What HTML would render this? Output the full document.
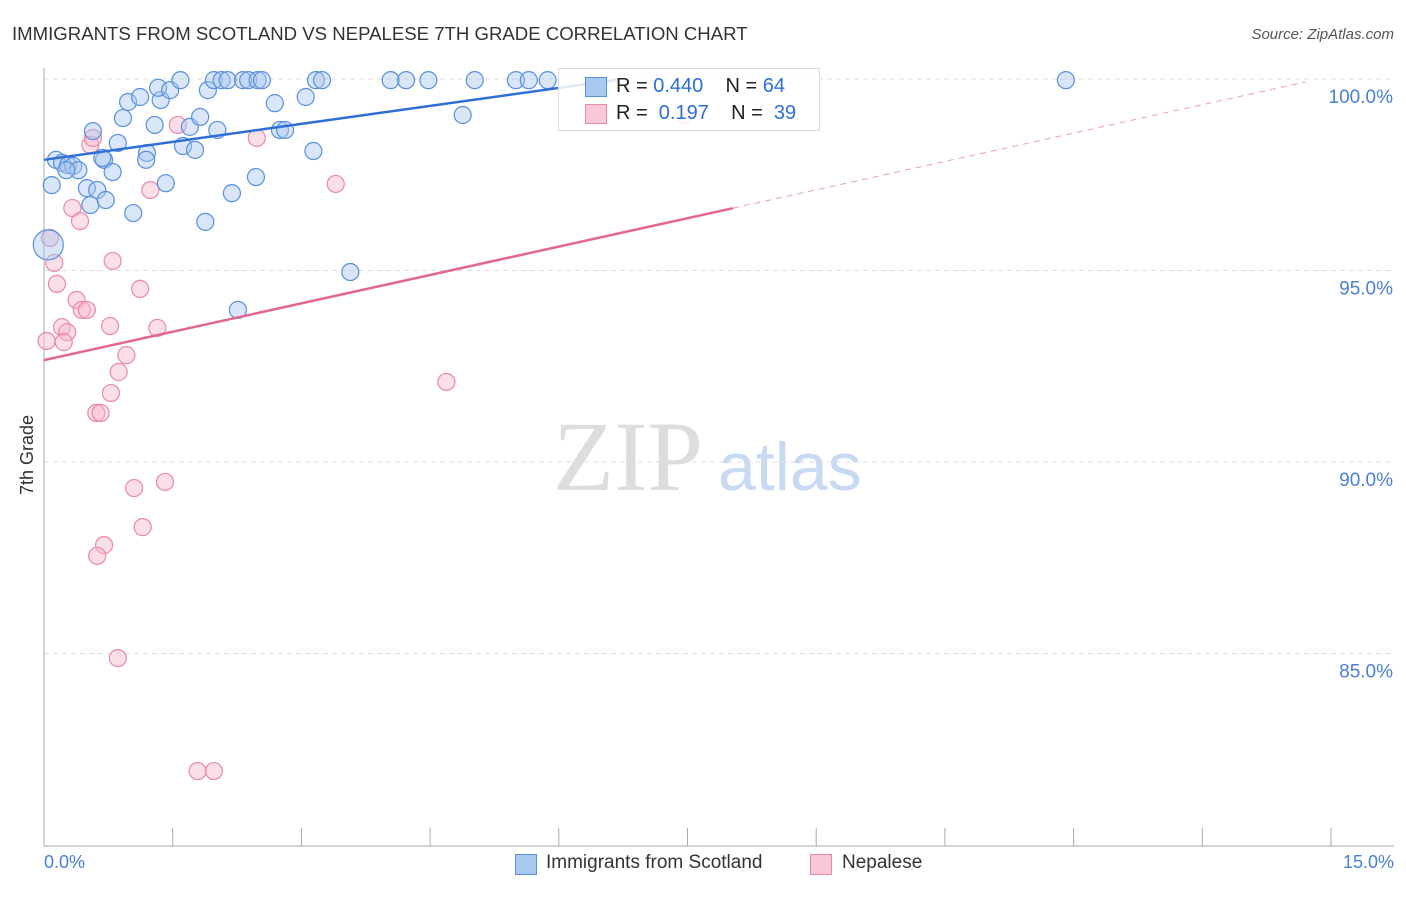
<!DOCTYPE html>
<html><head><meta charset="utf-8"><style>
body{margin:0;background:#fff;font-family:"Liberation Sans",sans-serif;}
#c{position:relative;width:1406px;height:892px;}
</style></head><body>
<div id="c">
<svg id="s" width="1406" height="892">
<text x="12" y="40" font-size="18.6" fill="#333">IMMIGRANTS FROM SCOTLAND VS NEPALESE 7TH GRADE CORRELATION CHART</text>
<text x="1394" y="39" font-size="15" fill="#555" font-style="italic" text-anchor="end">Source: ZipAtlas.com</text>
<text transform="translate(33,455) rotate(-90)" font-size="18" fill="#333" text-anchor="middle">7th Grade</text>
<text x="553" y="490" font-size="100" fill="#ddd" font-family="Liberation Serif,serif">ZIP</text>
<text x="718" y="490" font-size="68" fill="#c8daf2">atlas</text>
<g id="grid"></g><g id="marks"></g>
</svg>
</div>
<script>
const xTicks=[0,1.5,3,4.5,6,7.5,9,10.5,12,13.5,15];
const yTicks=[100,95,90,85];
const yTickLabels=["100.0%","95.0%","90.0%","85.0%"];
const blueX=[0.14,0.21,0.28,0.34,0.40,0.26,0.09,0.50,0.62,0.54,0.72,1.04,0.70,0.80,0.68,0.86,0.57,0.92,0.98,1.12,1.29,1.20,1.19,1.42,1.36,1.33,1.47,1.59,1.62,1.76,1.70,1.82,1.88,1.91,2.02,1.98,2.07,2.14,2.19,2.32,2.38,2.49,2.54,2.47,2.26,2.69,2.75,2.81,3.05,3.14,3.17,3.24,3.57,4.04,4.22,4.48,4.88,5.02,5.50,5.65,5.87,11.91,0.05];
const blueY=[97.89,97.81,97.75,97.73,97.62,97.62,97.23,97.15,97.10,96.71,96.84,96.50,97.89,97.57,97.94,98.33,98.64,98.98,99.40,99.53,98.80,98.07,97.89,97.28,99.45,99.77,99.71,99.97,98.25,98.15,98.75,99.01,96.27,99.71,98.67,99.97,99.97,99.97,97.02,99.97,99.97,99.97,99.97,97.44,93.97,99.37,98.67,98.67,99.53,98.12,99.97,99.97,94.96,99.97,99.97,99.97,99.06,99.97,99.97,99.97,99.97,99.97,95.67];
const pinkX=[0.07,0.12,0.15,0.21,0.27,0.23,0.03,0.33,0.42,0.38,0.44,0.50,0.54,0.57,0.61,0.66,0.70,0.62,0.78,0.77,0.80,0.87,0.96,0.86,1.05,1.12,1.15,1.24,1.32,1.41,1.56,1.79,1.98,2.48,3.40,4.69,7.45];
const pinkY=[95.85,95.20,94.65,93.52,93.39,93.13,93.16,96.63,96.29,94.23,93.97,93.97,98.28,98.46,91.28,91.28,87.83,87.55,91.80,93.55,95.25,92.35,92.79,84.88,89.32,94.52,88.30,97.10,93.50,89.48,98.80,81.93,81.93,98.46,97.26,92.09,99.06];
const blueLine=[97.89,0.313];const pinkLine=[92.66,0.494];
const X=v=>44+v*85.8, Y=v=>79+(100-v)*38.3;
const NS="http://www.w3.org/2000/svg";
const g=document.getElementById('grid'),m=document.getElementById('marks');
function el(t,a,p){const e=document.createElementNS(NS,t);for(const k in a)e.setAttribute(k,a[k]);p.appendChild(e);return e;}
yTicks.forEach((t,i)=>{
 const l=el('line',{x1:44,x2:1394,y1:Y(t),y2:Y(t),stroke:'#ddd','stroke-dasharray':'5,4'},g);
 
 
 const tx=el('text',{x:1393,y:Y(t)+24,'font-size':19,fill:'#4a7fd4','text-anchor':'end'},g);
 tx.textContent=yTickLabels[i];
 
 
});
const ax=el('line',{x1:44,x2:44,y1:68,y2:846,stroke:'#aaa'},g);


const bx=el('line',{x1:44,x2:1394,y1:846,y2:846,stroke:'#aaa'},g);


xTicks.forEach(t=>{const l=el('line',{x1:X(t),x2:X(t),y1:828,y2:846,stroke:'#aaa'},g);
 
 });
function pts(xs,ys,fill,stroke,name){xs.forEach((x,i)=>{
 const big=(name==='blue-point'&&i===xs.length-1);
 const c=el('circle',{cx:X(x),cy:Y(ys[i]),r:big?15:8.5,fill:fill,'fill-opacity':0.45,stroke:stroke,'stroke-width':1.2},m);
 
 });}
pts(pinkX,pinkY,'#f7b8cb','#e889a6','pink-point');
pts(blueX,blueY,'#a9c8f0','#5a8fdc','blue-point');
function ln(p,x0,x1,col,dash,name){const l=el('line',{x1:X(x0),y1:Y(p[0]+p[1]*x0),x2:X(x1),y2:Y(p[0]+p[1]*x1),stroke:col,'stroke-width':dash?1:2.5},m);
 if(dash)l.setAttribute('stroke-dasharray','6,5');
 
 }
ln(blueLine,0,6.7,'#2d6fd6',false,'blue-trend-line');
ln(pinkLine,0,8.03,'#e2688f',false,'pink-trend-line');
ln(pinkLine,8.03,14.7,'#e8a0b6',true,'pink-trend-extension');
</script>
<div style="position:absolute;left:558px;top:68px;width:260px;height:61px;border:1px solid #ddd;background:rgba(255,255,255,0.85);font-size:20px;">
 <div style="position:absolute;left:26px;top:8px;width:20px;height:18px;background:#a9c8f0;border:1px solid #5a8fdc"></div>
 <div style="position:absolute;left:57px;top:6px;color:#222">R = <span style="color:#2d6fd6">0.440</span>&nbsp;&nbsp;&nbsp; N = <span style="color:#2d6fd6">64</span></div>
 <div style="position:absolute;left:26px;top:35px;width:20px;height:18px;background:#f9c8d6;border:1px solid #e889a6"></div>
 <div style="position:absolute;left:57px;top:33px;color:#222">R = &nbsp;<span style="color:#2d6fd6">0.197</span>&nbsp;&nbsp;&nbsp; N = &nbsp;<span style="color:#2d6fd6">39</span></div>
</div>
<div style="position:absolute;left:44px;top:852px;font-size:18px;color:#4a7fd4">0.0%</div>
<div style="position:absolute;right:12px;top:852px;font-size:18px;color:#4a7fd4">15.0%</div>
<div style="position:absolute;left:515px;top:854px;width:20px;height:19px;background:#a9c8f0;border:1px solid #5a8fdc"></div>
<div style="position:absolute;left:546px;top:852px;font-size:19px;color:#333">Immigrants from Scotland</div>
<div style="position:absolute;left:810px;top:854px;width:20px;height:19px;background:#f9c8d6;border:1px solid #e889a6"></div>
<div style="position:absolute;left:842px;top:852px;font-size:19px;color:#333">Nepalese</div>
</body></html>
